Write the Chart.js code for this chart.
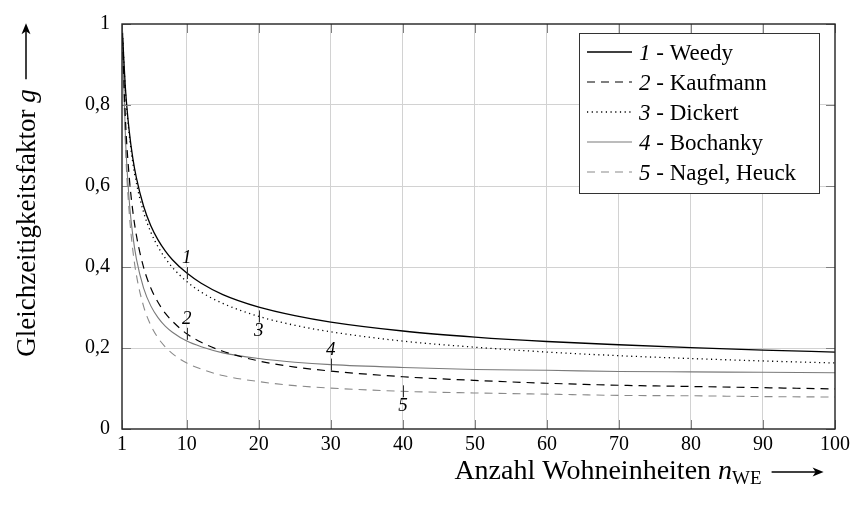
<!DOCTYPE html>
<html>
<head>
<meta charset="utf-8">
<script src="https://cdn.jsdelivr.net/npm/chart.js@4.4.0/dist/chart.umd.min.js"></script>
<style>
  html, body { margin: 0; padding: 0; background: #fff; }
  #wrap { width: 854px; height: 509px; }
</style>
</head>
<body>
<div id="wrap"><canvas id="chart"></canvas></div>
<script>
// Anzahl Wohneinheiten (x) and read-off values of g for each curve
const nWE = [1, 1.5, 2, 2.5, 3, 4, 5, 6, 7, 8, 10, 12, 15, 20, 25, 30, 40, 50, 60, 70, 80, 90, 100];
const weedy    = [1, 0.835, 0.736, 0.669, 0.620, 0.550, 0.502, 0.467, 0.440, 0.418, 0.385, 0.360, 0.332, 0.301, 0.280, 0.264, 0.242, 0.227, 0.216, 0.208, 0.201, 0.195, 0.190];
const kaufmann = [1, 0.756, 0.623, 0.538, 0.478, 0.399, 0.348, 0.313, 0.286, 0.266, 0.235, 0.214, 0.192, 0.168, 0.153, 0.143, 0.129, 0.120, 0.113, 0.108, 0.105, 0.102, 0.099];
const dickert  = [1, 0.829, 0.728, 0.658, 0.607, 0.535, 0.486, 0.450, 0.422, 0.399, 0.364, 0.338, 0.310, 0.278, 0.256, 0.240, 0.217, 0.202, 0.190, 0.181, 0.174, 0.168, 0.163];
const bochanky = [1, 0.710, 0.565, 0.478, 0.420, 0.348, 0.304, 0.275, 0.254, 0.239, 0.217, 0.203, 0.188, 0.174, 0.165, 0.159, 0.152, 0.147, 0.145, 0.142, 0.141, 0.140, 0.139];
const nagel    = [1, 0.690, 0.535, 0.442, 0.380, 0.303, 0.256, 0.225, 0.203, 0.186, 0.163, 0.148, 0.132, 0.117, 0.107, 0.101, 0.093, 0.089, 0.086, 0.083, 0.082, 0.080, 0.079];

const seriesNames = ['Weedy', 'Kaufmann', 'Dickert', 'Bochanky', 'Nagel, Heuck'];
const seriesNumbers = ['1', '2', '3', '4', '5'];
const xTicks = [1, 10, 20, 30, 40, 50, 60, 70, 80, 90, 100];
const yTicks = [0, 0.2, 0.4, 0.6, 0.8, 1];

// where the curve numbers sit: x value and above/below the curve
const curveMarks = [
    { series: 0, n: 10, side: -1 },
    { series: 1, n: 10, side: -1 },
    { series: 2, n: 20, side: 1 },
    { series: 3, n: 30, side: -1 },
    { series: 4, n: 40, side: 1 }
];

const FONT = '"Liberation Serif", "DejaVu Serif", serif';

function toPoints(values) {
    return nWE.map((n, i) => ({ x: n, y: values[i] }));
}

const styles = [
    { color: '#000000', width: 1.3, dash: [] },
    { color: '#000000', width: 1.2, dash: [8, 6] },
    { color: '#000000', width: 1.3, dash: [1.2, 3.5] },
    { color: '#7a7a7a', width: 1.1, dash: [] },
    { color: '#8a8a8a', width: 1.1, dash: [8, 6] }
];
const allValues = [weedy, kaufmann, dickert, bochanky, nagel];

const datasets = allValues.map((vals, i) => ({
    label: seriesNames[i],
    data: toPoints(vals),
    borderColor: styles[i].color,
    borderWidth: styles[i].width,
    borderDash: styles[i].dash,
    pointRadius: 0,
    fill: false,
    cubicInterpolationMode: 'monotone'
}));

// frame, inner tick marks, curve numbers, legend and axis titles
const decorPlugin = {
    id: 'decor',
    afterDatasetsDraw(chart) {
        const ctx = chart.ctx;
        const a = chart.chartArea;
        const xs = chart.scales.x;
        const ys = chart.scales.y;
        ctx.save();

        // inner tick marks
        ctx.strokeStyle = '#808080';
        ctx.lineWidth = 1;
        ctx.beginPath();
        xTicks.forEach(v => {
            const px = Math.round(xs.getPixelForValue(v)) + 0.5;
            ctx.moveTo(px, a.bottom); ctx.lineTo(px, a.bottom - 9);
            ctx.moveTo(px, a.top); ctx.lineTo(px, a.top + 9);
        });
        yTicks.forEach(v => {
            const py = Math.round(ys.getPixelForValue(v)) + 0.5;
            ctx.moveTo(a.left, py); ctx.lineTo(a.left + 9, py);
            ctx.moveTo(a.right, py); ctx.lineTo(a.right - 9, py);
        });
        ctx.stroke();

        // frame
        ctx.strokeStyle = '#222';
        ctx.lineWidth = 1.4;
        ctx.strokeRect(a.left, a.top, a.right - a.left, a.bottom - a.top);

        // curve numbers
        ctx.font = 'italic 19px ' + FONT;
        ctx.fillStyle = '#000';
        ctx.textAlign = 'center';
        ctx.textBaseline = 'middle';
        ctx.strokeStyle = '#333';
        ctx.lineWidth = 1;
        curveMarks.forEach(m => {
            const idx = nWE.indexOf(m.n);
            const px = xs.getPixelForValue(m.n);
            const py = ys.getPixelForValue(allValues[m.series][idx]);
            ctx.beginPath();
            ctx.moveTo(Math.round(px) + 0.5, py - 6);
            ctx.lineTo(Math.round(px) + 0.5, py + 6);
            ctx.stroke();
            ctx.fillText(seriesNumbers[m.series], px, py + m.side * 15);
        });

        // legend
        const lw = 240, lh = 160;
        const lx = a.right - 16 - lw, ly = a.top + 9;
        ctx.fillStyle = '#fff';
        ctx.fillRect(lx, ly, lw, lh);
        ctx.strokeStyle = '#333';
        ctx.lineWidth = 1;
        ctx.strokeRect(lx + 0.5, ly + 0.5, lw, lh);
        ctx.textAlign = 'left';
        ctx.textBaseline = 'alphabetic';
        seriesNames.forEach((name, i) => {
            const cy = ly + 19 + i * 30;
            ctx.strokeStyle = styles[i].color;
            ctx.lineWidth = styles[i].width;
            ctx.setLineDash(styles[i].dash);
            ctx.beginPath();
            ctx.moveTo(lx + 8, cy);
            ctx.lineTo(lx + 53, cy);
            ctx.stroke();
            ctx.setLineDash([]);
            ctx.fillStyle = '#000';
            ctx.font = 'italic 23px ' + FONT;
            const base = cy + 8;
            ctx.fillText(seriesNumbers[i], lx + 60, base);
            const w = ctx.measureText(seriesNumbers[i]).width;
            ctx.font = '23px ' + FONT;
            ctx.fillText(' - ' + name, lx + 60 + w, base);
        });

        // x axis title
        const tSize = 28;
        const subSize = 19;
        ctx.font = tSize + 'px ' + FONT;
        const t1 = 'Anzahl Wohneinheiten ';
        const w1 = ctx.measureText(t1).width;
        ctx.font = 'italic ' + tSize + 'px ' + FONT;
        const w2 = ctx.measureText('n').width;
        ctx.font = subSize + 'px ' + FONT;
        const w3 = ctx.measureText('WE').width;
        const arrowLen = 52, gap = 10;
        const total = w1 + w2 + w3 + gap + arrowLen;
        const x0 = 639 - total / 2;
        const by = 479;
        ctx.fillStyle = '#000';
        ctx.font = tSize + 'px ' + FONT;
        ctx.fillText(t1, x0, by);
        ctx.font = 'italic ' + tSize + 'px ' + FONT;
        ctx.fillText('n', x0 + w1, by);
        ctx.font = subSize + 'px ' + FONT;
        ctx.fillText('WE', x0 + w1 + w2, by + 5);
        drawArrow(ctx, x0 + w1 + w2 + w3 + gap, by - 7, arrowLen);

        // y axis title
        ctx.save();
        ctx.translate(35, 190);
        ctx.rotate(-Math.PI / 2);
        ctx.font = '27px ' + FONT;
        const s1 = 'Gleichzeitigkeitsfaktor ';
        const v1 = ctx.measureText(s1).width;
        ctx.font = 'italic 27px ' + FONT;
        const v2 = ctx.measureText('g').width;
        const yArrow = 56;
        const ytotal = v1 + v2 + gap + yArrow;
        const y0 = -ytotal / 2;
        ctx.font = '27px ' + FONT;
        ctx.fillText(s1, y0, 0);
        ctx.font = 'italic 27px ' + FONT;
        ctx.fillText('g', y0 + v1, 0);
        drawArrow(ctx, y0 + v1 + v2 + gap, -9, yArrow);
        ctx.restore();

        ctx.restore();
    }
};

function drawArrow(ctx, x, y, len) {
    ctx.strokeStyle = '#000';
    ctx.fillStyle = '#000';
    ctx.lineWidth = 1.5;
    ctx.setLineDash([]);
    ctx.beginPath();
    ctx.moveTo(x, y);
    ctx.lineTo(x + len - 6, y);
    ctx.stroke();
    ctx.beginPath();
    ctx.moveTo(x + len, y);
    ctx.lineTo(x + len - 11, y - 4.5);
    ctx.lineTo(x + len - 8, y);
    ctx.lineTo(x + len - 11, y + 4.5);
    ctx.closePath();
    ctx.fill();
}

new Chart(document.getElementById('chart'), {
    type: 'line',
    data: { datasets: datasets },
    plugins: [decorPlugin],
    options: {
        responsive: true,
        maintainAspectRatio: false,
        animation: false,
        layout: { padding: { top: 19, right: 19, left: 0, bottom: 0 } },
        plugins: {
            legend: { display: false },
            tooltip: { enabled: false }
        },
        scales: {
            x: {
                type: 'linear',
                min: 1,
                max: 100,
                afterBuildTicks: scale => { scale.ticks = xTicks.map(v => ({ value: v })); },
                afterFit: scale => { scale.height = 80; },
                grid: {
                    color: c => (c.tick && (c.tick.value === 1 || c.tick.value === 100)) ? 'rgba(0,0,0,0)' : '#d2d2d2',
                    drawTicks: false
                },
                border: { display: false },
                ticks: {
                    color: '#000',
                    padding: 4,
                    maxRotation: 0,
                    autoSkip: false,
                    font: { family: FONT, size: 20 }
                }
            },
            y: {
                min: 0,
                max: 1,
                afterBuildTicks: scale => { scale.ticks = yTicks.map(v => ({ value: v })); },
                afterFit: scale => { scale.width = 122; },
                grid: {
                    color: c => (c.tick && (c.tick.value === 0 || c.tick.value === 1)) ? 'rgba(0,0,0,0)' : '#d2d2d2',
                    drawTicks: false
                },
                border: { display: false },
                ticks: {
                    color: '#000',
                    padding: 12,
                    font: { family: FONT, size: 20 },
                    callback: v => String(Math.round(v * 10) / 10).replace('.', ',')
                }
            }
        }
    }
});
</script>
</body>
</html>
